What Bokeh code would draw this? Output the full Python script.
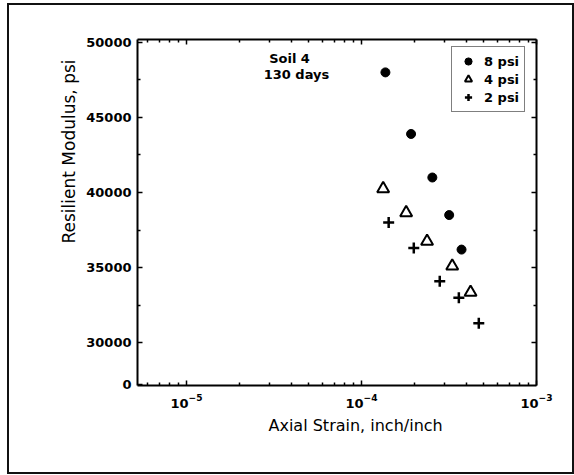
from bokeh.plotting import figure
from bokeh.models import (LogAxis, LinearAxis, FixedTicker, Label, Legend, LegendItem,
                          CustomJSTickFormatter, Title)
from bokeh.embed import file_html
from bokeh.resources import INLINE

# ---- data ----
strain_8psi = [1.37e-4, 1.92e-4, 2.54e-4, 3.17e-4, 3.73e-4]
modulus_8psi = [48000, 43900, 41000, 38500, 36200]

strain_4psi = [1.33e-4, 1.80e-4, 2.37e-4, 3.30e-4, 4.20e-4]
modulus_4psi = [40250, 38650, 36750, 35100, 33350]

strain_2psi = [1.43e-4, 1.99e-4, 2.80e-4, 3.60e-4, 4.68e-4]
modulus_2psi = [38000, 36300, 34100, 33000, 31300]

series_labels = ["8 psi", "4 psi", "2 psi"]

# y axis has a break: "0" sits at the bottom, then 30000..50000
y_ticks = [27220, 30000, 35000, 40000, 45000, 50000]
y_tick_labels = ["0", "30000", "35000", "40000", "45000", "50000"]
y_minor = [32500, 37500, 42500, 47500]

x_ticks = [1e-5, 1e-4, 1e-3]
x_minor = [m * 10.0 ** e for e in (-6, -5, -4) for m in range(2, 10)]

FONT = "DejaVu Sans"

p = figure(width=563, height=467, x_axis_type="log",
           x_range=(5.25e-6, 1e-3), y_range=(27150, 50190),
           output_backend="svg", toolbar_location=None,
           min_border_left=128, min_border_right=36,
           min_border_top=34, min_border_bottom=87)
p.margin = (5, 0, 0, 9)
p.styles = {"outline": "2px solid #111"}
p.xgrid.grid_line_color = None
p.ygrid.grid_line_color = None
p.outline_line_color = None
p.background_fill_color = "white"
p.border_fill_color = "white"

blank = CustomJSTickFormatter(code="return ''")


def style_axis(ax):
    ax.axis_line_color = "black"
    ax.axis_line_width = 2
    ax.major_tick_in = 5
    ax.major_tick_out = 0
    ax.minor_tick_in = 3
    ax.minor_tick_out = 0
    ax.major_tick_line_color = "black"
    ax.minor_tick_line_color = "black"
    ax.major_tick_line_width = 1.5
    ax.minor_tick_line_width = 1.5
    ax.major_label_text_font = FONT
    ax.major_label_text_font_size = "13px"
    ax.major_label_text_font_style = "bold"
    ax.major_label_text_color = "black"


# bottom log axis
xa = p.xaxis[0]
xa.ticker = FixedTicker(ticks=x_ticks, minor_ticks=x_minor)
style_axis(xa)
xa.major_label_standoff = 8

# left axis
ya = p.yaxis[0]
ya.ticker = FixedTicker(ticks=y_ticks, minor_ticks=y_minor)
ya.major_label_overrides = {t: s for t, s in zip(y_ticks, y_tick_labels)}
style_axis(ya)
ya.major_label_standoff = 6

# mirrored top / right axes (ticks only)
top = LogAxis(ticker=FixedTicker(ticks=x_ticks, minor_ticks=x_minor), formatter=blank)
style_axis(top)
top.major_label_standoff = 0
p.add_layout(top, "above")

right = LinearAxis(ticker=FixedTicker(ticks=y_ticks[1:], minor_ticks=y_minor), formatter=blank)
style_axis(right)
right.major_label_standoff = 0
p.add_layout(right, "right")

r8 = p.scatter(strain_8psi, modulus_8psi, marker="circle", size=9,
               fill_color="black", line_color="black")
r4 = p.scatter(strain_4psi, modulus_4psi, marker="triangle", size=12,
               fill_color="white", line_color="black", line_width=2)
r2 = p.scatter(strain_2psi, modulus_2psi, marker="cross", size=11,
               line_color="black", line_width=2.5)

legend = Legend(items=[LegendItem(label=series_labels[0], renderers=[r8]),
                       LegendItem(label=series_labels[1], renderers=[r4]),
                       LegendItem(label=series_labels[2], renderers=[r2])],
                location=(314, 273), margin=0, padding=5, spacing=0,
                glyph_width=22, glyph_height=18, label_height=14, label_standoff=5,
                label_text_font=FONT, label_text_font_size="13px",
                label_text_font_style="bold", label_text_color="black",
                border_line_color="black", border_line_width=1.5,
                background_fill_color="white", background_fill_alpha=1.0)
p.add_layout(legend)

p.add_layout(Label(x=3.88e-5, y=48940, text="Soil 4", text_align="center",
                   text_baseline="middle", text_font=FONT, text_font_size="13px",
                   text_font_style="bold", text_color="black"))
p.add_layout(Label(x=4.25e-5, y=47880, text="130 days", text_align="center",
                   text_baseline="middle", text_font=FONT, text_font_size="13px",
                   text_font_style="bold", text_color="black"))

# axis titles (as side-panel titles so they can be placed like the reference)
p.add_layout(Title(text="Axial Strain, inch/inch", align="left", offset=131,
                   text_font=FONT, text_font_size="16px", text_font_style="normal",
                   text_color="black", standoff=6), "below")
p.add_layout(Title(text="Resilient Modulus, psi", align="right", offset=20,
                   text_font=FONT, text_font_size="17px", text_font_style="normal",
                   text_color="black", standoff=10), "left")

open("out.html", "w").write(file_html(p, INLINE))
